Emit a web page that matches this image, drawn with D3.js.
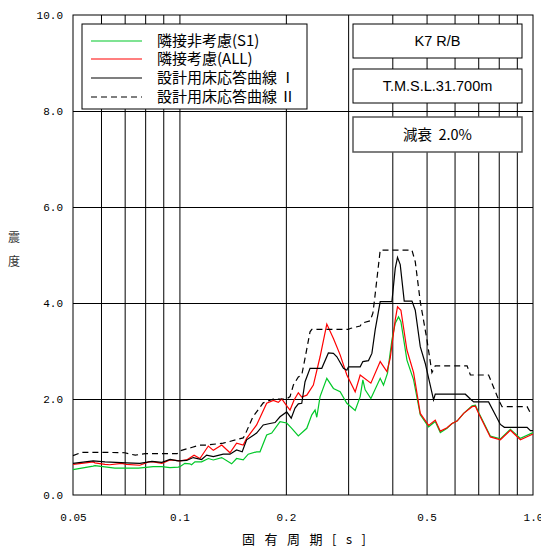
<!DOCTYPE html>
<html><head><meta charset="utf-8">
<script src="https://cdn.jsdelivr.net/npm/d3@7"></script>
<style>body{margin:0;background:#fff}</style>
</head><body><svg id="c" width="541" height="550"></svg>
<script>
// ---------- data ----------
const xTicks = [0.05, 0.1, 0.2, 0.5, 1.0];
const xTickLabels = ["0.05", "0.1", "0.2", "0.5", "1.0"];
const xGrid = [0.06, 0.07, 0.08, 0.09, 0.1, 0.2, 0.3, 0.4, 0.5, 0.6, 0.7, 0.8, 0.9];
const yTicks = [0, 2, 4, 6, 8, 10];
const yTickLabels = ["0.0", "2.0", "4.0", "6.0", "8.0", "10.0"];
const yGrid = [2, 4, 6, 8];

const seriesNames = ["隣接非考慮(S1)", "隣接考慮(ALL)", "設計用床応答曲線 Ⅰ", "設計用床応答曲線 Ⅱ"];
const infoTexts = ["K7 R/B", "T.M.S.L.31.700m", "減衰  2.0%"];

// [period (s), value]
const seriesS1 = [[0.05,0.53],[0.0529,0.56],[0.057,0.60],[0.0577,0.61],[0.0657,0.56],[0.0708,0.56],[0.0766,0.56],[0.0843,0.59],[0.0892,0.59],[0.094,0.57],[0.0992,0.58],[0.1003,0.59],[0.1036,0.66],[0.107,0.65],[0.1082,0.63],[0.1106,0.69],[0.1155,0.69],[0.1207,0.76],[0.1247,0.73],[0.1317,0.78],[0.1405,0.65],[0.1451,0.76],[0.1515,0.73],[0.1565,0.85],[0.1653,0.90],[0.169,0.90],[0.1765,1.25],[0.1824,1.29],[0.1925,1.53],[0.2011,1.50],[0.2078,1.39],[0.2169,1.23],[0.2292,1.39],[0.2368,1.67],[0.2419,1.77],[0.2446,1.62],[0.2499,2.05],[0.2611,2.43],[0.2726,2.22],[0.2848,2.15],[0.2975,1.91],[0.3141,1.76],[0.3245,2.05],[0.3302,2.40],[0.3352,2.19],[0.3479,2.01],[0.3697,2.43],[0.3777,2.29],[0.3877,2.54],[0.399,3.23],[0.4077,3.58],[0.4166,3.71],[0.4231,3.61],[0.44,2.81],[0.4595,2.40],[0.4799,1.67],[0.5066,1.42],[0.5291,1.53],[0.5468,1.30],[0.5713,1.39],[0.5902,1.49],[0.6098,1.54],[0.6366,1.70],[0.6725,1.86],[0.6871,1.87],[0.702,1.72],[0.7573,1.23],[0.8085,1.17],[0.863,1.37],[0.9213,1.18],[1.0,1.30]];
const seriesAll = [[0.05,0.64],[0.0529,0.66],[0.057,0.69],[0.0577,0.67],[0.0616,0.64],[0.0635,0.63],[0.0687,0.66],[0.0708,0.64],[0.0773,0.62],[0.0818,0.69],[0.0843,0.69],[0.0892,0.66],[0.094,0.73],[0.1003,0.71],[0.1048,0.73],[0.11,0.83],[0.1143,0.76],[0.1207,1.02],[0.1247,0.93],[0.1317,1.04],[0.139,0.88],[0.1451,1.08],[0.1515,1.04],[0.1549,1.18],[0.1653,1.46],[0.1765,1.91],[0.1843,1.97],[0.1904,1.93],[0.1947,2.00],[0.2019,1.84],[0.2055,1.77],[0.211,1.98],[0.2169,2.13],[0.2218,2.04],[0.2292,2.08],[0.2392,2.29],[0.2499,2.88],[0.2611,3.56],[0.2726,3.26],[0.2848,2.92],[0.2975,2.50],[0.3141,2.15],[0.3245,2.50],[0.3479,2.33],[0.3697,2.78],[0.3862,2.57],[0.3946,2.85],[0.4077,3.65],[0.4138,3.92],[0.4231,3.85],[0.44,3.02],[0.4595,2.55],[0.4799,1.70],[0.5066,1.45],[0.5291,1.56],[0.5468,1.33],[0.5713,1.40],[0.5902,1.49],[0.6098,1.54],[0.6366,1.70],[0.6725,1.84],[0.6871,1.85],[0.702,1.70],[0.7573,1.21],[0.8085,1.15],[0.863,1.35],[0.9213,1.15],[1.0,1.27]];
const seriesDesignI = [[0.05,0.66],[0.057,0.71],[0.0616,0.69],[0.0708,0.67],[0.0773,0.66],[0.0836,0.70],[0.0892,0.68],[0.0941,0.74],[0.0992,0.71],[0.1048,0.72],[0.1094,0.78],[0.1155,0.74],[0.1194,0.83],[0.1247,0.80],[0.133,0.85],[0.139,0.85],[0.1451,0.94],[0.1505,0.90],[0.1549,1.15],[0.1653,1.29],[0.1726,1.46],[0.1803,1.49],[0.1864,1.51],[0.1925,1.63],[0.2011,1.73],[0.2071,1.60],[0.2123,1.81],[0.2169,1.90],[0.2218,1.91],[0.2266,2.36],[0.2341,2.64],[0.2527,2.64],[0.2638,2.96],[0.2726,2.95],[0.2788,2.88],[0.291,2.64],[0.2975,2.60],[0.3006,2.67],[0.3245,2.67],[0.3302,2.78],[0.3425,2.80],[0.3502,2.95],[0.3578,3.44],[0.3697,4.03],[0.399,4.03],[0.4077,4.72],[0.4138,4.95],[0.4212,4.80],[0.4323,4.04],[0.4546,4.04],[0.4645,3.85],[0.4799,3.09],[0.4958,2.74],[0.5233,1.98],[0.5291,2.10],[0.6436,2.10],[0.6651,2.00],[0.6796,1.94],[0.7489,1.94],[0.8085,1.47],[0.83,1.41],[0.9623,1.41],[0.9834,1.34],[1.0,1.34]];
const seriesDesignII = [[0.05,0.82],[0.0529,0.89],[0.06,0.89],[0.07,0.88],[0.075,0.83],[0.08,0.86],[0.0985,0.86],[0.1003,0.92],[0.1082,0.99],[0.1143,1.04],[0.1194,1.04],[0.133,1.08],[0.1515,1.19],[0.1532,1.25],[0.1614,1.63],[0.1726,1.92],[0.1843,2.00],[0.2011,2.00],[0.2055,2.05],[0.21,2.29],[0.2169,2.46],[0.2218,2.50],[0.2266,2.85],[0.2341,3.40],[0.2368,3.45],[0.3006,3.45],[0.304,3.47],[0.3245,3.52],[0.3281,3.58],[0.3463,3.63],[0.3525,3.79],[0.3562,4.06],[0.3697,5.10],[0.4546,5.10],[0.4645,4.86],[0.4799,4.03],[0.5013,3.23],[0.5178,2.55],[0.5291,2.69],[0.651,2.69],[0.6651,2.50],[0.7489,2.50],[0.7997,1.98],[0.8174,1.84],[0.9623,1.84],[0.9834,1.71]];

// ---------- chart ----------
const svg = d3.select("#c");
const M = {l: 73, r: 533, t: 15, b: 495};
const x = d3.scaleLog().domain([0.05, 1]).range([M.l, M.r]);
const y = d3.scaleLinear().domain([0, 10]).range([M.b, M.t]);
const mono = "'Liberation Mono','DejaVu Sans Mono',monospace";
const cjk = "'Noto Sans CJK JP','Noto Sans CJK SC',sans-serif";

// grid
svg.append("g").attr("transform", `translate(0,${M.b})`)
  .call(d3.axisBottom(x).tickValues(xGrid).tickSize(-(M.b - M.t)).tickFormat(""))
  .call(g => { g.select(".domain").remove(); g.selectAll("line").attr("stroke", "#000"); });
svg.append("g").attr("transform", `translate(${M.l},0)`)
  .call(d3.axisLeft(y).tickValues(yGrid).tickSize(-(M.r - M.l)).tickFormat(""))
  .call(g => { g.select(".domain").remove(); g.selectAll("line").attr("stroke", "#000"); });

// frame
svg.append("rect").attr("x", M.l).attr("y", M.t).attr("width", M.r - M.l).attr("height", M.b - M.t)
  .attr("fill", "none").attr("stroke", "#000").attr("stroke-width", 1);

// tick labels
svg.append("g").attr("transform", `translate(0,${M.b})`)
  .call(d3.axisBottom(x).tickValues(xTicks).tickSize(0).tickPadding(18).tickFormat((d, i) => xTickLabels[i]))
  .call(g => { g.select(".domain").remove(); g.selectAll("text").attr("font-family", mono).attr("font-size", 11).attr("fill", "#000"); });
svg.append("g").attr("transform", `translate(${M.l},0)`)
  .call(d3.axisLeft(y).tickValues(yTicks).tickSize(0).tickPadding(10).tickFormat((d, i) => yTickLabels[i]))
  .call(g => { g.select(".domain").remove(); g.selectAll("text").attr("font-family", mono).attr("font-size", 11).attr("fill", "#000"); });

// axis titles
svg.append("text").attr("x", 242).attr("y", 544).attr("font-family", cjk).attr("font-size", 13)
  .attr("letter-spacing", 3.3).text("固 有 周 期 [ s ]");
const yt = svg.append("text").attr("font-family", cjk).attr("font-size", 12).attr("fill", "#333").attr("text-anchor", "middle");
yt.append("tspan").attr("x", 14).attr("y", 242).text("震");
yt.append("tspan").attr("x", 14).attr("y", 266).text("度");

// series
const line = d3.line().x(d => x(d[0])).y(d => y(d[1]));
const styles = [
  {data: seriesS1, color: "#00c828", dash: null},
  {data: seriesAll, color: "#ff0000", dash: null},
  {data: seriesDesignI, color: "#000", dash: null},
  {data: seriesDesignII, color: "#000", dash: "6,4"}
];
styles.forEach(s => {
  svg.append("path").datum(s.data).attr("d", line).attr("fill", "none")
    .attr("stroke", s.color).attr("stroke-width", 1.2).attr("stroke-dasharray", s.dash);
});

// legend
svg.append("rect").attr("x", 82).attr("y", 24).attr("width", 225).attr("height", 85)
  .attr("fill", "#fff").attr("stroke", "#000");
const legY = [41, 59, 78, 97];
styles.forEach((s, i) => {
  svg.append("line").attr("x1", 91).attr("x2", 142).attr("y1", legY[i]).attr("y2", legY[i])
    .attr("stroke", s.color).attr("stroke-width", 1.2).attr("stroke-dasharray", s.dash);
  svg.append("text").attr("x", 157).attr("y", legY[i]).attr("dy", "0.36em")
    .attr("font-family", cjk).attr("font-size", 15).style("white-space", "pre").text(seriesNames[i]);
});

// info boxes
const boxY = [24, 69, 117];
const boxH = [34, 34, 35];
infoTexts.forEach((t, i) => {
  svg.append("rect").attr("x", 353).attr("y", boxY[i]).attr("width", 169).attr("height", boxH[i])
    .attr("fill", "#fff").attr("stroke", i === 2 ? "#555" : "#000").attr("stroke-width", i === 2 ? 1.5 : 1);
  svg.append("text").attr("x", 437.5).attr("y", boxY[i] + boxH[i] / 2).attr("dy", "0.36em")
    .attr("text-anchor", "middle").attr("font-family", i === 2 ? cjk : "'Liberation Sans',Arial,sans-serif")
    .attr("font-size", 14.5).style("white-space", "pre").text(t);
});
</script>
</body></html>
